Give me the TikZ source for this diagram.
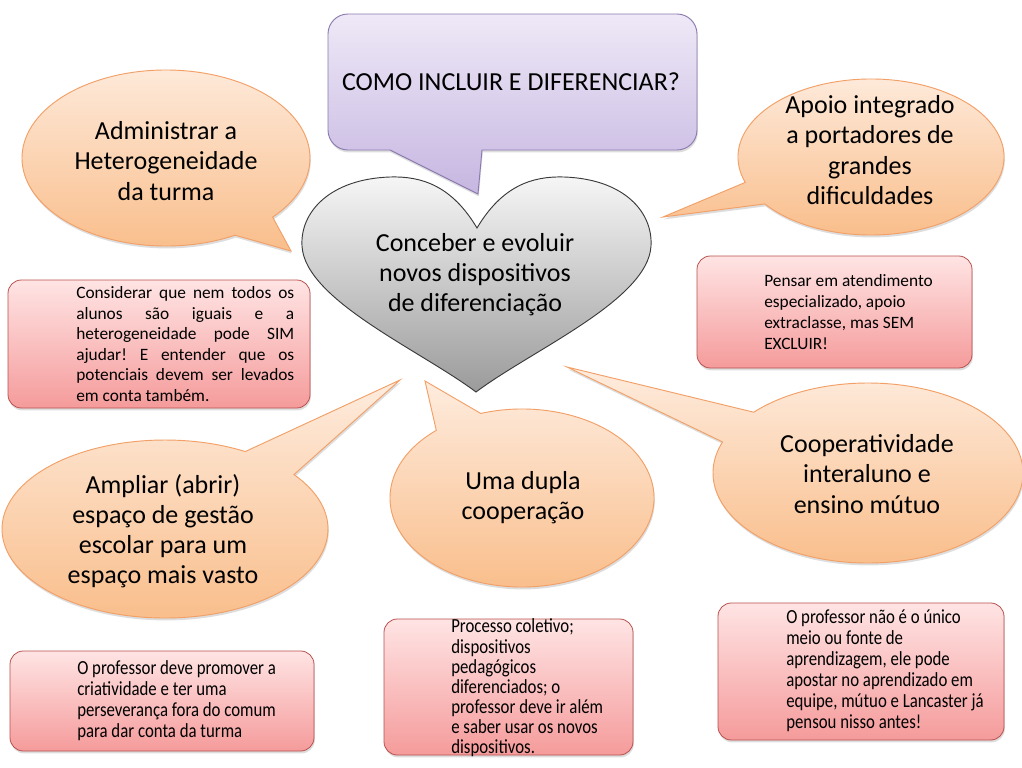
\documentclass[tikz,border=0pt]{standalone}
\usepackage{fontspec}
\setmainfont{Carlito}
\newfontfamily\condfont{Carlito}[FakeStretch=0.84]
\usetikzlibrary{shadows}
\frenchspacing
\definecolor{orangetop}{HTML}{FEECDE}
\definecolor{orangebot}{HTML}{F9BC88}
\definecolor{orangeline}{HTML}{F2A067}
\definecolor{pinktop}{HTML}{FFE4E4}
\definecolor{pinkbot}{HTML}{F59B9B}
\definecolor{pinkline}{HTML}{B8504D}
\definecolor{purptop}{HTML}{EEE9F7}
\definecolor{purpbot}{HTML}{C6B6E1}
\definecolor{purpline}{HTML}{8B7AAE}
\definecolor{hearttop}{HTML}{F6F6F6}
\definecolor{heartbot}{HTML}{9B9B9B}
\definecolor{heartline}{HTML}{3A3A3A}
\newcommand{\jline}[1]{\makebox[163.5pt][s]{#1}}
\begin{document}
\begin{tikzpicture}[x=0.75pt,y=-0.75pt,
  softshadow/.style={drop shadow={shadow xshift=0.6pt,shadow yshift=-1.8pt,opacity=0.22,fill=black!60}},
  orangecall/.style={draw=orangeline,line width=0.7pt,top color=orangetop,bottom color=orangebot,softshadow},
  pinkbox/.style={draw=pinkline,line width=0.6pt,top color=pinktop,bottom color=pinkbot,rounded corners=10pt,softshadow},
  purpcall/.style={draw=purpline,line width=0.7pt,top color=purptop,bottom color=purpbot,softshadow},
  heartshape/.style={draw=heartline,line width=0.7pt,top color=hearttop,bottom color=heartbot},
  bigtext/.style={font=\fontsize{19.5}{22.6}\selectfont,align=center,inner sep=0pt,text=black},
  smalltext/.style={font=\fontsize{13}{15.6}\selectfont,align=left,inner sep=0pt,text=black},
  condtext/.style={font=\condfont\fontsize{15}{15.7}\selectfont,align=left,inner sep=0pt,text=black}]
\useasboundingbox[fill=white] (0,0) rectangle (1022,768);

% purple callout
\path[purpcall] (390,150) -- (478,194) -- (482,150) -- (677,150)
  arc[start angle=90,end angle=0,radius=20] -- (697,34)
  arc[start angle=0,end angle=-90,radius=20] -- (348,14)
  arc[start angle=-90,end angle=-180,radius=20] -- (328,130)
  arc[start angle=180,end angle=90,radius=20] -- cycle;
\node[bigtext] (q) at (511,82) {COMO INCLUIR E DIFERENCIAR?};

% heart
\path[heartshape] (477,228) .. controls (452,186) and (422,176) .. (390,177)
  .. controls (330,179) and (300,212) .. (302,246)
  .. controls (305,300) and (420,350) .. (476,392)
  .. controls (532,350) and (648,300) .. (651,246)
  .. controls (653,212) and (624,179) .. (564,177)
  .. controls (532,176) and (502,186) .. (477,228) -- cycle;
\node[bigtext] (h) at (475,275) {Conceber e evoluir\\novos dispositivos\\de diferenciação};

% orange callouts
\path[orangecall] (166,158) ++(61.3:144 and 88)
  arc[start angle=61.3,end angle=402.2,x radius=144,y radius=88] -- (291,251) -- cycle;
\node[bigtext] (c1) at (166,161) {Administrar a\\Heterogeneidade\\da turma};

\path[orangecall] (871,157) ++(161:133 and 78)
  arc[start angle=161,end angle=503,x radius=133,y radius=78] -- (663,217) -- cycle;
\node[bigtext] (c2) at (870,150) {Apoio integrado\\a portadores de\\grandes\\dificuldades};

\path[orangecall] (165,529) ++(322.3:163 and 89)
  arc[start angle=322.3,end angle=659.5,x radius=163,y radius=89] -- (400,380) -- cycle;
\node[bigtext] (c3) at (163,531) {Ampliar (abrir)\\espaço de gestão\\escolar para um\\espaço mais vasto};

\path[orangecall] (522,498) ++(251.8:132 and 89)
  arc[start angle=251.8,end angle=589.5,x radius=132,y radius=89] -- (425,381) -- cycle;
\node[bigtext] (c4) at (523,498) {Uma dupla\\cooperação};

\path[orangecall] (868,473) ++(222.5:155 and 90)
  arc[start angle=222.5,end angle=560.2,x radius=155,y radius=90] -- (567,367) -- cycle;
\node[bigtext] (c5) at (867,474) {Cooperatividade\\interaluno e\\ensino mútuo};

% pink boxes
\path[pinkbox] (8,280) rectangle (310,408);
\node[smalltext,anchor=west,font=\fontsize{13}{15.4}\selectfont] (t1) at (76,344) {\jline{Considerar que nem todos os}\\\jline{alunos são iguais e a}\\\jline{heterogeneidade pode SIM}\\\jline{ajudar! E entender que os}\\\jline{potenciais devem ser levados}\\em conta também.};

\path[pinkbox] (697,256) rectangle (972,368);
\node[smalltext,anchor=west] (t2) at (764,312) {Pensar em atendimento\\especializado, apoio\\extraclasse, mas SEM\\EXCLUIR!};

\path[pinkbox] (10,651) rectangle (314,751);
\node[condtext,anchor=west] (t3) at (77,701) {O professor deve promover a\\criatividade e ter uma\\perseverança fora do comum\\para dar conta da turma};

\path[pinkbox] (384,619) rectangle (633,755);
\node[condtext,anchor=west,font=\condfont\fontsize{15}{15.1}\selectfont] (t4) at (451,688) {Processo coletivo;\\dispositivos\\pedagógicos\\diferenciados; o\\professor deve ir além\\e saber usar os novos\\dispositivos.};

\path[pinkbox] (718,603) rectangle (1004,740);
\node[condtext,anchor=west] (t5) at (786,671) {O professor não é o único\\meio ou fonte de\\aprendizagem, ele pode\\apostar no aprendizado em\\equipe, mútuo e Lancaster já\\pensou nisso antes!};
\end{tikzpicture}
\end{document}
